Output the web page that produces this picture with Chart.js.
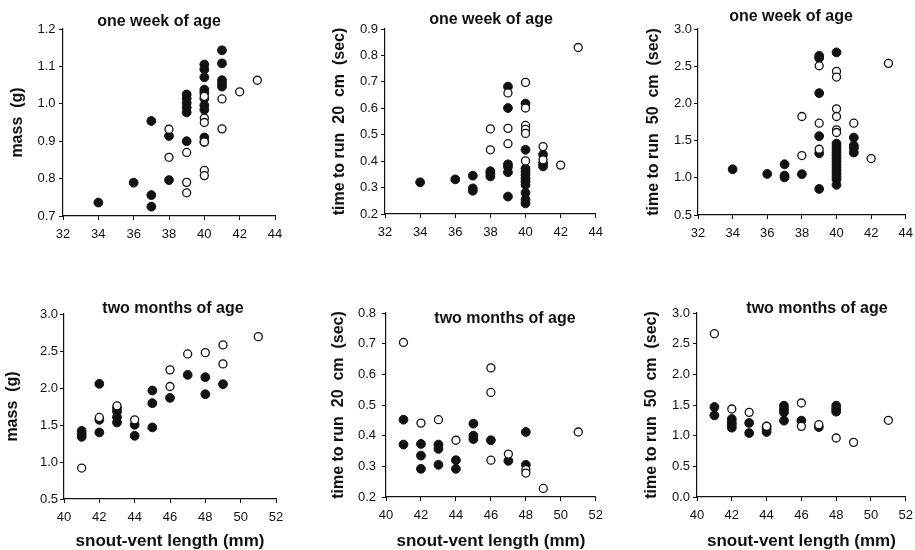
<!DOCTYPE html>
<html>
<head>
<meta charset="utf-8">
<script src="https://cdn.jsdelivr.net/npm/chart.js@4.4.1/dist/chart.umd.min.js"></script>
<style>
  html, body { margin: 0; padding: 0; background: #fff; overflow: hidden; width: 915px; height: 550px; }
  canvas { position: absolute; }
</style>
</head>
<body>
<canvas id="wkMass" width="300" height="240" style="left:0;top:0"></canvas>
<canvas id="wkRun20" width="300" height="240" style="left:310px;top:0"></canvas>
<canvas id="wkRun50" width="300" height="240" style="left:620px;top:0"></canvas>
<canvas id="moMass" width="300" height="270" style="left:0;top:280px"></canvas>
<canvas id="moRun20" width="300" height="270" style="left:310px;top:280px"></canvas>
<canvas id="moRun50" width="300" height="270" style="left:620px;top:280px"></canvas>
<script>
// [snout-vent length, value]; filled = one group, open = the other
const weekMassFilled = [[34,0.736],[36,0.789],[37,0.954],[37,0.756],[37,0.725],[38,0.914],[38,0.796],
  [39,1.025],[39,1.014],[39,1.002],[39,0.990],[39,0.977],[39,0.900],
  [40,1.105],[40,1.092],[40,1.071],[40,1.038],[40,1.029],[40,1.014],[40,0.996],[40,0.984],[40,0.910],[40,0.898],
  [41,1.143],[41,1.108],[41,1.063],[41,1.054],[41,1.046]];
const weekMassOpen = [[38,0.932],[38,0.857],[39,0.870],[39,0.790],[39,0.762],
  [40,1.020],[40,0.962],[40,0.950],[40,0.898],[40,0.822],[40,0.808],[41,1.013],[41,0.933],[42,1.032],[43,1.063]];

const weekRun20Filled = [[34,0.320],[36,0.331],[37,0.345],[37,0.297],[37,0.288],[38,0.362],[38,0.352],[38,0.342],
  [39,0.682],[39,0.601],[39,0.388],[39,0.378],[39,0.358],[39,0.266],
  [40,0.618],[40,0.443],[40,0.372],[40,0.360],[40,0.348],[40,0.335],[40,0.323],[40,0.310],[40,0.280],[40,0.255],[40,0.240],
  [41,0.425],[41,0.392],[41,0.380]];
const weekRun20Open = [[38,0.522],[38,0.443],[39,0.658],[39,0.524],[39,0.466],
  [40,0.698],[40,0.601],[40,0.535],[40,0.520],[40,0.505],[40,0.401],[41,0.455],[41,0.405],[42,0.385],[43,0.830]];

const weekRun50Filled = [[34,1.115],[36,1.052],[37,1.182],[37,1.030],[37,1.005],[38,1.048],
  [39,2.640],[39,2.610],[39,2.138],[39,1.560],[39,1.330],[39,0.850],
  [40,2.686],[40,1.46],[40,1.42],[40,1.38],[40,1.34],[40,1.30],[40,1.26],[40,1.22],[40,1.18],[40,1.14],[40,1.10],[40,1.06],[40,1.02],[40,0.98],[40,0.905],
  [41,1.541],[41,1.434],[41,1.398],[41,1.339]];
const weekRun50Open = [[38,1.824],[38,1.299],[39,2.506],[39,1.734],[39,1.384],
  [40,2.430],[40,2.354],[40,1.927],[40,1.824],[40,1.645],[40,1.609],[41,1.734],[42,1.259],[43,2.538]];

const monthMassFilled = [[41,1.42],[41,1.38],[41,1.34],[42,2.056],[42,1.570],[42,1.399],
  [43,1.728],[43,1.683],[43,1.606],[43,1.534],[44,1.503],[44,1.354],[45,1.966],[45,1.795],[45,1.467],
  [46,1.867],[47,2.177],[48,2.146],[48,1.916],[49,2.051]];
const monthMassOpen = [[41,0.918],[42,1.602],[43,1.759],[44,1.570],[46,2.245],[46,2.020],
  [47,2.460],[48,2.478],[49,2.582],[49,2.326],[51,2.694]];

const monthRun20Filled = [[41,0.452],[41,0.371],[42,0.373],[42,0.335],[42,0.292],[43,0.371],[43,0.357],[43,0.305],
  [44,0.320],[44,0.292],[45,0.439],[45,0.400],[45,0.389],[46,0.385],[47,0.318],[48,0.412],[48,0.305]];
const monthRun20Open = [[41,0.704],[42,0.441],[43,0.452],[44,0.385],[46,0.621],[46,0.541],[46,0.320],
  [47,0.340],[48,0.289],[48,0.278],[49,0.228],[51,0.412]];

const monthRun50Filled = [[41,1.467],[41,1.332],[42,1.272],[42,1.217],[42,1.179],[42,1.130],[43,1.207],[43,1.043],
  [44,1.152],[44,1.109],[44,1.060],[45,1.489],[45,1.435],[45,1.380],[45,1.245],[46,1.245],[47,1.141],
  [48,1.489],[48,1.435],[48,1.391]];
const monthRun50Open = [[41,2.663],[42,1.435],[43,1.380],[44,1.152],[46,1.533],[46,1.152],[47,1.179],
  [48,0.962],[49,0.891],[51,1.250]];

const weekTitle = 'one week of age';
const monthTitle = 'two months of age';
const xTitle = 'snout-vent length (mm)';

const FONT = '"Liberation Sans", Arial, Helvetica, sans-serif';
const INK = '#111';

// draws the small panel heading where the original has it
const panelTitle = {
  id: 'panelTitle',
  afterDraw(chart, args, opts) {
    const ctx = chart.ctx;
    ctx.save();
    ctx.font = 'bold 16px ' + FONT;
    ctx.fillStyle = INK;
    ctx.textAlign = 'center';
    ctx.textBaseline = 'alphabetic';
    ctx.fillText(opts.text, opts.x, opts.y);
    ctx.restore();
  }
};

function toPts(arr) {
  return arr.map(p => ({ x: p[0], y: p[1] }));
}

function makePanel(id, c) {
  new Chart(document.getElementById(id), {
    type: 'scatter',
    data: {
      datasets: [
        { data: toPts(c.filled), pointRadius: 4.4, backgroundColor: INK, borderColor: INK, borderWidth: 1, order: 1 },
        { data: toPts(c.open), pointRadius: 4, backgroundColor: '#fff', borderColor: INK, borderWidth: 1.3, order: 0 }
      ]
    },
    options: {
      responsive: false,
      animation: false,
      events: [],
      layout: { padding: { top: c.top, right: c.right, left: 0, bottom: 0 } },
      plugins: {
        legend: { display: false },
        tooltip: { enabled: false },
        panelTitle: { text: c.title, x: c.tx, y: c.ty }
      },
      scales: {
        x: {
          type: 'linear',
          min: c.xmin, max: c.xmin + 12,
          afterFit: s => { s.height = c.xh; },
          border: { color: INK, width: 1.2 },
          grid: { drawOnChartArea: false, color: INK, tickLength: 4 },
          ticks: { stepSize: 2, color: INK, padding: 7, maxRotation: 0, font: { family: FONT, size: 13 } },
          title: {
            display: !!c.xTitle, text: c.xTitle || '', color: INK,
            font: { family: FONT, size: 17, weight: 'bold', lineHeight: 1 },
            padding: { top: 0, bottom: 0 }
          }
        },
        y: {
          min: c.ymin, max: c.ymax,
          afterFit: s => { s.width = c.yw; },
          border: { color: INK, width: 1.2 },
          grid: { drawOnChartArea: false, color: INK, tickLength: 4 },
          ticks: { stepSize: c.ystep, color: INK, padding: c.tp, font: { family: FONT, size: 13 },
                   callback: v => v.toFixed(1) },
          title: {
            display: true, text: c.yTitle, color: INK,
            font: { family: FONT, size: 16, weight: 'bold', lineHeight: 1.2 },
            padding: { top: c.yt, bottom: 0 }
          }
        }
      }
    },
    plugins: [panelTitle]
  });
}

makePanel('wkMass', { filled: weekMassFilled, open: weekMassOpen, title: weekTitle, tx: 159, ty: 26,
  xmin: 32, ymin: 0.7, ymax: 1.2, ystep: 0.1, yTitle: 'mass  (g)',
  top: 29, right: 25, xh: 24, yw: 63, yt: 8.4, tp: 3.5 });
makePanel('wkRun20', { filled: weekRun20Filled, open: weekRun20Open, title: weekTitle, tx: 181, ty: 24,
  xmin: 32, ymin: 0.2, ymax: 0.9, ystep: 0.1, yTitle: 'time to run  20  cm  (sec)',
  top: 29, right: 13, xh: 26, yw: 75, yt: 20.4, tp: 3 });
makePanel('wkRun50', { filled: weekRun50Filled, open: weekRun50Open, title: weekTitle, tx: 171, ty: 21,
  xmin: 32, ymin: 0.5, ymax: 3.0, ystep: 0.5, yTitle: 'time to run  50  cm  (sec)',
  top: 29, right: 11, xh: 25, yw: 78, yt: 24.4, tp: 2 });
makePanel('moMass', { filled: monthMassFilled, open: monthMassOpen, title: monthTitle, tx: 173, ty: 33,
  xmin: 40, ymin: 0.5, ymax: 3.0, ystep: 0.5, yTitle: 'mass  (g)', xTitle: xTitle,
  top: 34, right: 24, xh: 51, yw: 64, yt: 3.4, tp: 2 });
makePanel('moRun20', { filled: monthRun20Filled, open: monthRun20Open, title: monthTitle, tx: 195, ty: 43,
  xmin: 40, ymin: 0.2, ymax: 0.8, ystep: 0.1, yTitle: 'time to run  20  cm  (sec)', xTitle: xTitle,
  top: 33, right: 12, xh: 53, yw: 76, yt: 19.4, tp: 6 });
makePanel('moRun50', { filled: monthRun50Filled, open: monthRun50Open, title: monthTitle, tx: 197, ty: 33,
  xmin: 40, ymin: 0.0, ymax: 3.0, ystep: 0.5, yTitle: 'time to run  50  cm  (sec)', xTitle: xTitle,
  top: 33, right: 11, xh: 53, yw: 77, yt: 22.4, tp: 3 });
</script>
</body>
</html>
